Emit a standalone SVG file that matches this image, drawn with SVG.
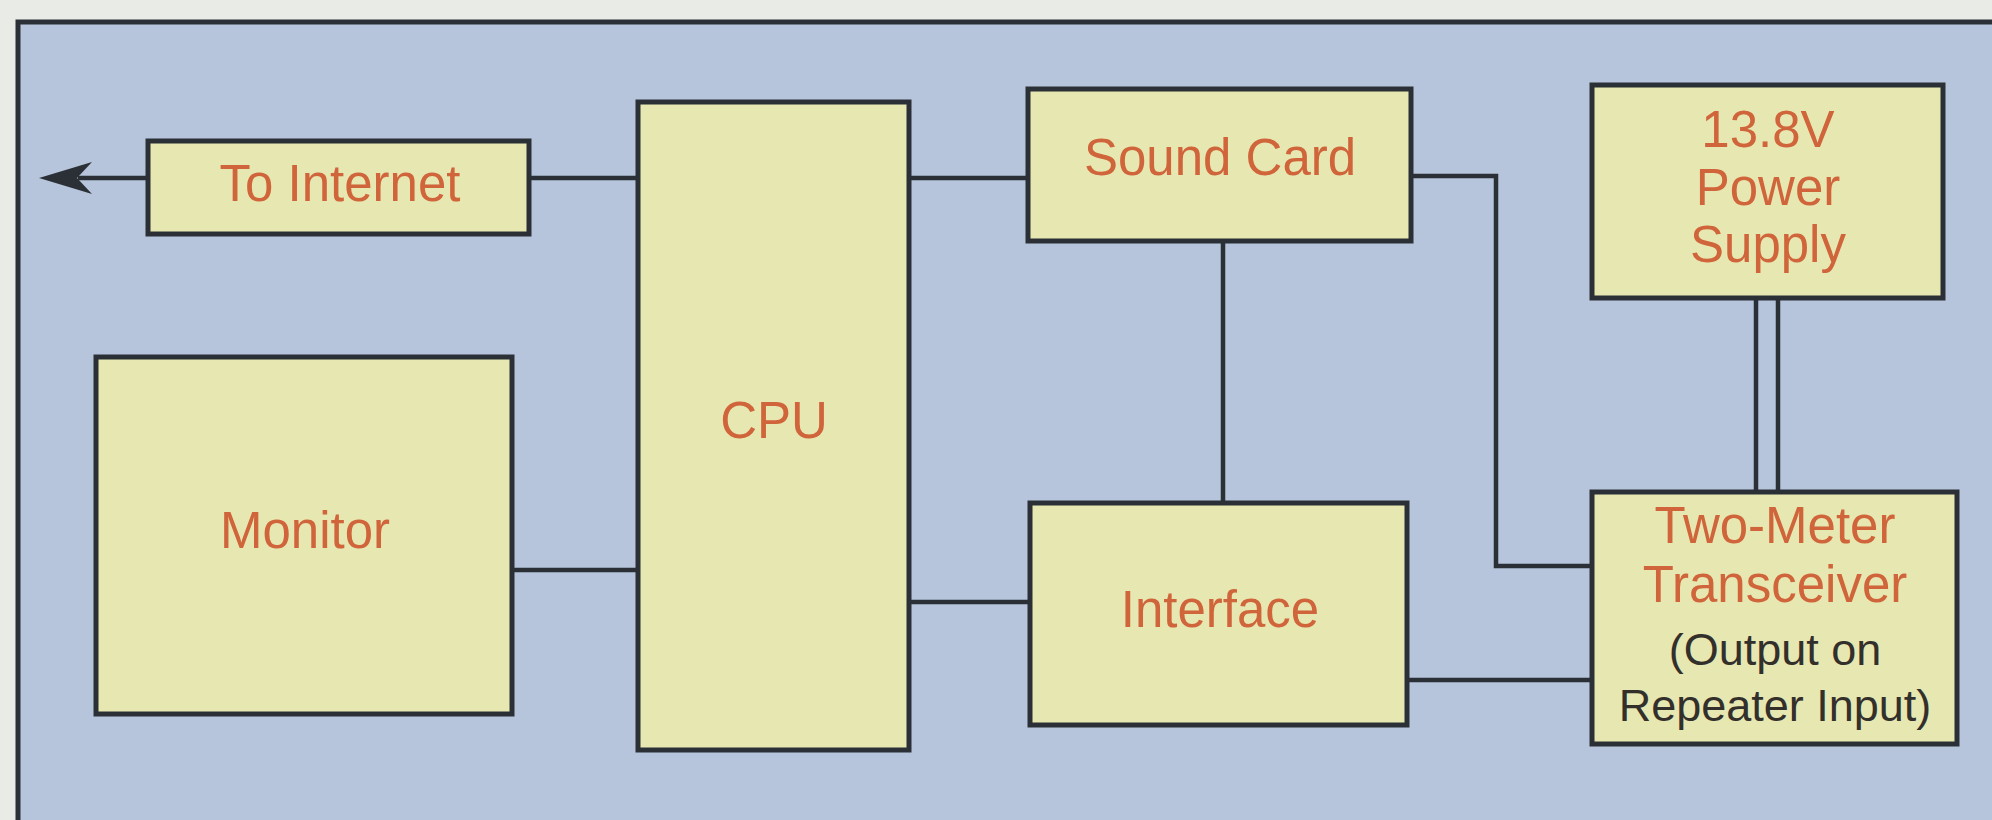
<svg xmlns="http://www.w3.org/2000/svg" width="1992" height="820" viewBox="0 0 1992 820">
<style>
.box{fill:#e7e7b1;stroke:#2b3036;stroke-width:5}
.wire{fill:none;stroke:#2b3036;stroke-width:4.5}
.lbl{font-family:"Liberation Sans",Arial,sans-serif;font-size:51px;fill:#d0643a;text-anchor:middle}
.sub{font-family:"Liberation Sans",Arial,sans-serif;font-size:45px;fill:#33302c;text-anchor:middle}
</style>
<rect x="0" y="0" width="1992" height="820" fill="#e9ebe7"/>
<rect x="18" y="22" width="1980" height="810" fill="#b6c5db"/>
<path d="M18,820 V22 H1992" fill="none" stroke="#2b3036" stroke-width="5"/>
<g id="connectors">
<polyline class="wire" points="148,178 78,178"/>
<path d="M39,178 L92,162 L77,178 L92,194 Z" fill="#2b3036"/>
<polyline class="wire" points="529,178 638,178"/>
<polyline class="wire" points="909,178 1028,178"/>
<polyline class="wire" points="512,570 638,570"/>
<polyline class="wire" points="909,602 1030,602"/>
<polyline class="wire" points="1223,241 1223,503"/>
<polyline class="wire" points="1411,176 1496,176 1496,566 1592,566"/>
<polyline class="wire" points="1407,680 1592,680"/>
<polyline class="wire" points="1756,298 1756,492"/>
<polyline class="wire" points="1778,298 1778,492"/>
</g>
<g id="to-internet"><rect class="box" x="148" y="141" width="381" height="93"/><text class="lbl" x="340" y="201">To Internet</text></g>
<g id="cpu"><rect class="box" x="638" y="102" width="271" height="648"/><text class="lbl" x="774" y="438">CPU</text></g>
<g id="monitor"><rect class="box" x="96" y="357" width="416" height="357"/><text class="lbl" x="305" y="548">Monitor</text></g>
<g id="sound-card"><rect class="box" x="1028" y="89" width="383" height="152"/><text class="lbl" x="1220" y="175">Sound Card</text></g>
<g id="interface"><rect class="box" x="1030" y="503" width="377" height="222"/><text class="lbl" x="1220" y="627">Interface</text></g>
<g id="power-supply"><rect class="box" x="1592" y="85" width="351" height="213"/><text class="lbl" x="1768" y="147">13.8V</text><text class="lbl" x="1768" y="205">Power</text><text class="lbl" x="1768" y="262">Supply</text></g>
<g id="transceiver"><rect class="box" x="1592" y="492" width="365" height="252"/><text class="lbl" x="1775" y="543">Two-Meter</text><text class="lbl" x="1775" y="602">Transceiver</text><text class="sub" x="1775" y="665">(Output on</text><text class="sub" x="1775" y="721">Repeater Input)</text></g>
</svg>
